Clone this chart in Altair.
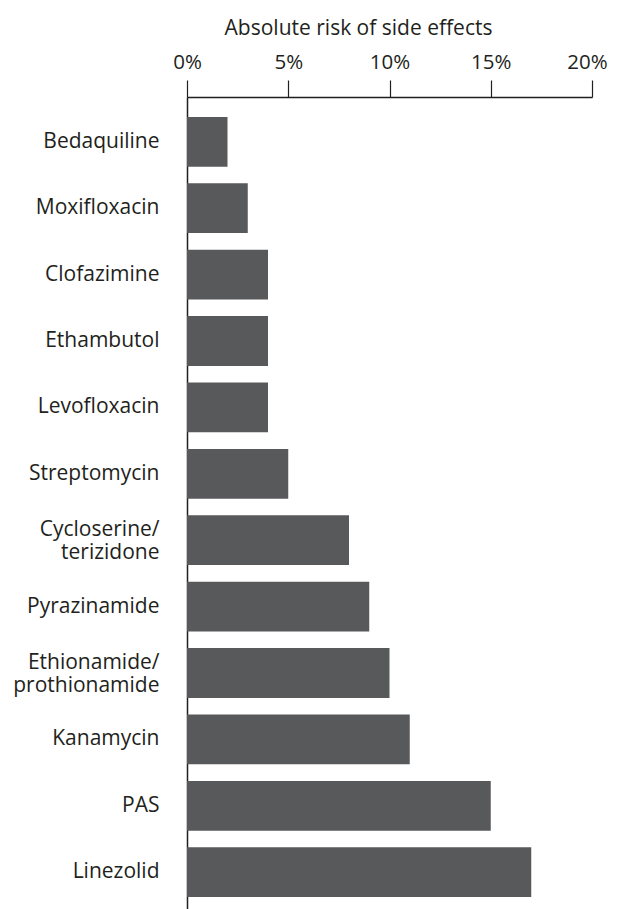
import altair as alt
import pandas as pd

drugs = ["Bedaquiline", "Moxifloxacin", "Clofazimine", "Ethambutol", "Levofloxacin",
         "Streptomycin", "Cycloserine/terizidone", "Pyrazinamide",
         "Ethionamide/prothionamide", "Kanamycin", "PAS", "Linezolid"]
risk = [2, 3, 4, 4, 4, 5, 8, 9, 10, 11, 15, 17]
x_ticks = [0, 5, 10, 15, 20]

df = pd.DataFrame({"drug": drugs, "risk": risk})

FONT = "Open Sans"
INK = "#231f20"

multi = "indexof(datum.value,'/')>0"
label_expr = (multi + " ? [substring(datum.value,0,indexof(datum.value,'/')+1), "
              "substring(datum.value,indexof(datum.value,'/')+1)] : datum.value")

chart = alt.Chart(df).mark_bar(color="#58595b").encode(
    x=alt.X("risk:Q",
            scale=alt.Scale(domain=[0, 20], nice=False),
            axis=alt.Axis(orient="top", values=x_ticks, labelExpr="datum.value + '%'",
                          title="Absolute risk of side effects", titleFontWeight="normal",
                          titleFontSize=21, titleFont=FONT, titleColor=INK,
                          titlePadding=14, titleX=171, titleAlign="center",
                          labelFont=FONT, labelFontSize=20.5, labelColor=INK, labelFlush=False,
                          labelOffset={"condition": {"test": "datum.value == 20", "value": -5},
                                       "value": 0},
                          labelPadding=8, tickSize=17, tickColor=INK, tickWidth=1.2,
                          domainColor=INK, domainWidth=1.5, grid=False)),
    y=alt.Y("drug:N", sort=drugs,
            scale=alt.Scale(paddingInner=0.25, paddingOuter=0.3),
            axis=alt.Axis(title=None, ticks=False, labelFont=FONT, labelFontSize=21,
                          labelColor=INK, labelPadding=28, labelExpr=label_expr,
                          labelOffset={"condition": {"test": multi, "value": -10}, "value": 0},
                          labelLineHeight=23, domainColor=INK, domainWidth=1.5)),
).properties(
    width=405, height=820,
    autosize=alt.AutoSizeParams(type="none"),
    padding={"left": 179, "top": 89, "right": 18, "bottom": 0},
).configure_view(stroke=None)

chart.save("out.html", embed_options={"renderer": "svg", "actions": False})
